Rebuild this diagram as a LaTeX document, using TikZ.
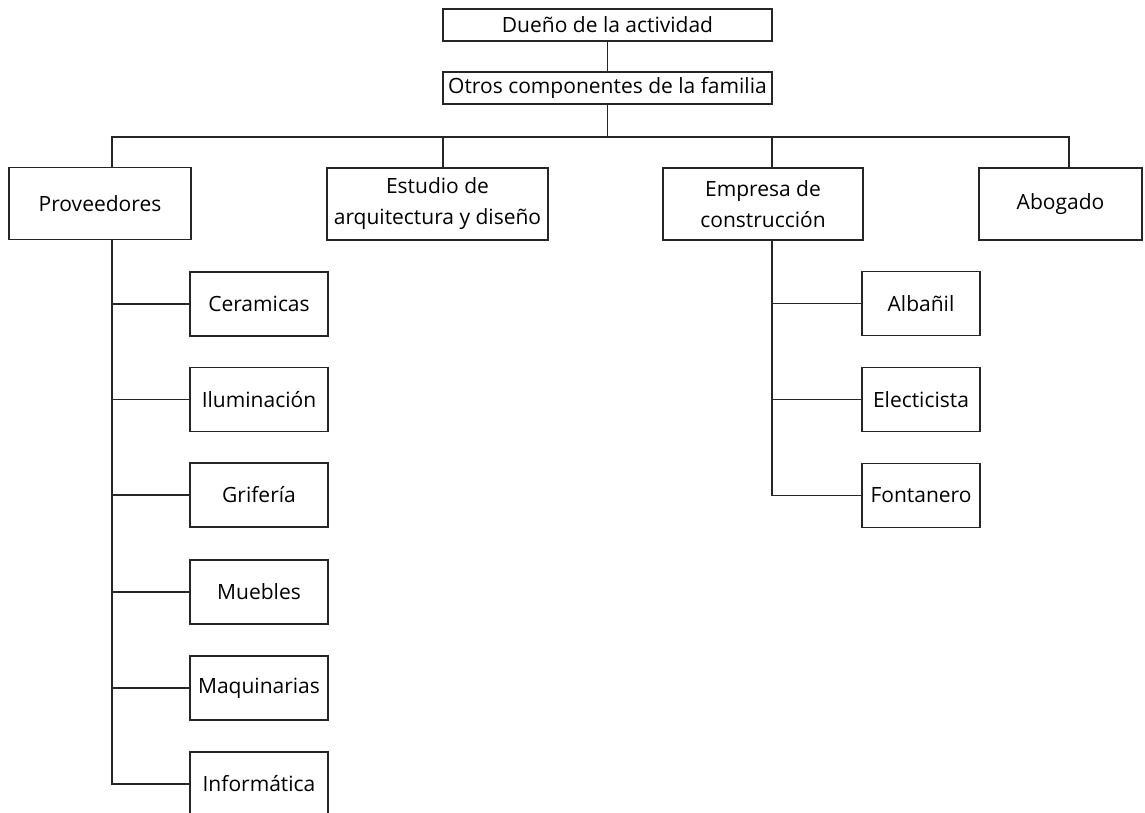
\documentclass[tikz,border=0pt]{standalone}
\usepackage{fontspec}
\setmainfont{Open Sans}
\begin{document}
\begin{tikzpicture}[x=1pt,y=-1pt,
  box/.style={draw=black!85, line width=1.7pt, inner sep=0pt, outer sep=0pt,
    align=center, font=\fontsize{21}{31}\selectfont},
  topbox/.style={box, minimum width=329, minimum height=32},
  headbox/.style={box, minimum height=72},
  leafl/.style={box, minimum width=138, minimum height=64},
  leafr/.style={box, minimum width=118, minimum height=64},
  link/.style={draw=black!85, line width=1.7pt}]
\useasboundingbox (0,0) rectangle (1145,813);
\fill[white] (0,0) rectangle (1145,813);

% top of the hierarchy
\node[topbox] (dueno) at (607.5,25) {Dueño de la actividad};
\node[topbox] (otros) at (607.5,88) {Otros componentes de la familia};

% second level
\node[headbox, minimum width=182] (prov) at (100,203.5) {Proveedores};
\node[headbox, minimum width=221] (estu) at (437.5,204) {Estudio de\\arquitectura y diseño};
\node[headbox, minimum width=200] (empr) at (763,204) {Empresa de\\construcción};
\node[headbox, minimum width=163] (abog) at (1060.5,204) {Abogado};

% suppliers
\node[leafl] (cer) at (259,304) {Ceramicas};
\node[leafl] (ilu) at (259,399.5) {Iluminación};
\node[leafl] (gri) at (259,495) {Grifería};
\node[leafl] (mue) at (259,592) {Muebles};
\node[leafl] (maq) at (259,688) {Maquinarias};
\node[leafl] (inf) at (259,784) {Informática};

% construction trades
\node[leafr] (alb) at (921,303.5) {Albañil};
\node[leafr] (ele) at (921,399.5) {Electicista};
\node[leafr] (fon) at (921,495.5) {Fontanero};

% bus joining the second level
\coordinate (bus) at (607.5,137);
\coordinate (ptop) at ([xshift=12pt]prov.north);
\coordinate (etop) at ([xshift=5.5pt]estu.north);
\coordinate (ctop) at ([xshift=9pt]empr.north);
\coordinate (atop) at ([xshift=8.5pt]abog.north);
\coordinate (pbot) at ([xshift=12pt]prov.south);
\coordinate (cbot) at ([xshift=9pt]empr.south);

\draw[link] (dueno) -- (otros);
\draw[link] (otros.south) -- (bus);
\draw[link] (ptop) |- (bus) -| (atop);
\draw[link] (etop) -- (etop |- bus);
\draw[link] (ctop) -- (ctop |- bus);

% supplier trunk
\draw[link] (pbot) |- (inf.west);
\foreach \n in {cer,ilu,gri,mue,maq}
  \draw[link] (\n.west) -- (\n.west -| pbot);

% trades trunk
\draw[link] (cbot) |- (fon.west);
\foreach \n in {alb,ele}
  \draw[link] (\n.west) -- (\n.west -| cbot);
\end{tikzpicture}
\end{document}
